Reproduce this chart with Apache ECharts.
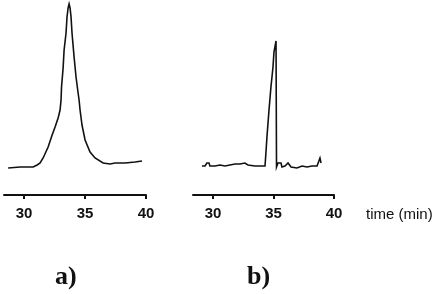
<!DOCTYPE html>
<html><head><meta charset="utf-8">
<script src="https://cdn.jsdelivr.net/npm/echarts@6/dist/echarts.min.js"></script>
<style>html,body{margin:0;padding:0;background:#fff}#c{width:437px;height:294px}</style>
</head><body><div id="c"></div>
<script>
// Panel a) time (min) and detector response (arbitrary units)
const timeA = [28.69,29.67,30.74,31.07,31.31,31.56,31.97,32.30,32.54,32.79,32.95,33.03,33.07,33.20,33.28,33.44,33.52,33.61,33.69,33.77,33.85,33.93,34.10,34.26,34.43,34.51,34.59,34.75,35.00,35.41,35.82,36.48,37.05,37.46,38.28,39.10,39.67];
const signalA = [27,28,28,30,32,37,48,60,68,77,85,95,108,127,145,162,178,187,191,187,178,162,138,118,102,95,85,70,55,43,37,32,31,32,32,33,34];
// Panel b)
const timeB = [29.09,29.34,29.50,29.67,29.75,30.17,30.58,30.99,31.40,31.82,32.23,32.64,32.89,33.47,33.88,34.30,34.38,34.46,34.63,34.79,34.96,35.04,35.21,35.25,35.37,35.62,35.70,35.95,36.20,36.36,36.45,36.94,37.36,37.77,38.18,38.60,38.76,38.84,38.93];
const signalB = [29,29,32,32,29,29,30,29,30,31,31,32,30,29,29,29,43,58,85,108,128,143,154,28,32,32,28,29,32,32,28,27,29,28,29,29,31,37,32];
const tickValues = [30,35,40];
const panelLabels = ['a)','b)'];
const axisTitle = 'time (min)';

const pairs = (t, v) => t.map((x, i) => [x, v[i]]);
const chart = echarts.init(document.getElementById('c'), null, {renderer:'canvas'});
const xAx = (gi) => ({
  type:'value', gridIndex:gi, min:28.35, max:40, position:'bottom',
  splitLine:{show:false},
  axisLine:{show:true, lineStyle:{color:'#111', width:2}},
  axisTick:{show:true, customValues:tickValues, length:4, lineStyle:{color:'#111', width:2}},
  axisLabel:{show:true, customValues:tickValues, margin:11, color:'#111', fontSize:15, fontWeight:'bold', fontFamily:'Liberation Sans, Arial, sans-serif'}
});
const yAx = (gi) => ({type:'value', gridIndex:gi, min:0, max:195, show:false});
chart.setOption({
  animation:false,
  grid:[
    {left:4, top:0, width:142, height:195},
    {left:193, top:0, width:141, height:195}
  ],
  xAxis:[xAx(0), xAx(1)],
  yAxis:[yAx(0), yAx(1)],
  series:[
    {type:'line', xAxisIndex:0, yAxisIndex:0, data:pairs(timeA, signalA), showSymbol:false, lineStyle:{color:'#111', width:1.6, join:'miter'}},
    {type:'line', xAxisIndex:1, yAxisIndex:1, data:pairs(timeB, signalB), showSymbol:false, lineStyle:{color:'#111', width:1.6, join:'miter'}}
  ],
  graphic:[
    {type:'text', left:366, top:207, style:{text:axisTitle, fill:'#111', font:'15px "Liberation Sans", Arial, sans-serif'}},
    {type:'text', left:55, top:264, style:{text:panelLabels[0], fill:'#111', font:'bold 26px "Liberation Serif", "Times New Roman", serif'}},
    {type:'text', left:247, top:264, style:{text:panelLabels[1], fill:'#111', font:'bold 26px "Liberation Serif", "Times New Roman", serif'}}
  ]
});
</script></body></html>
